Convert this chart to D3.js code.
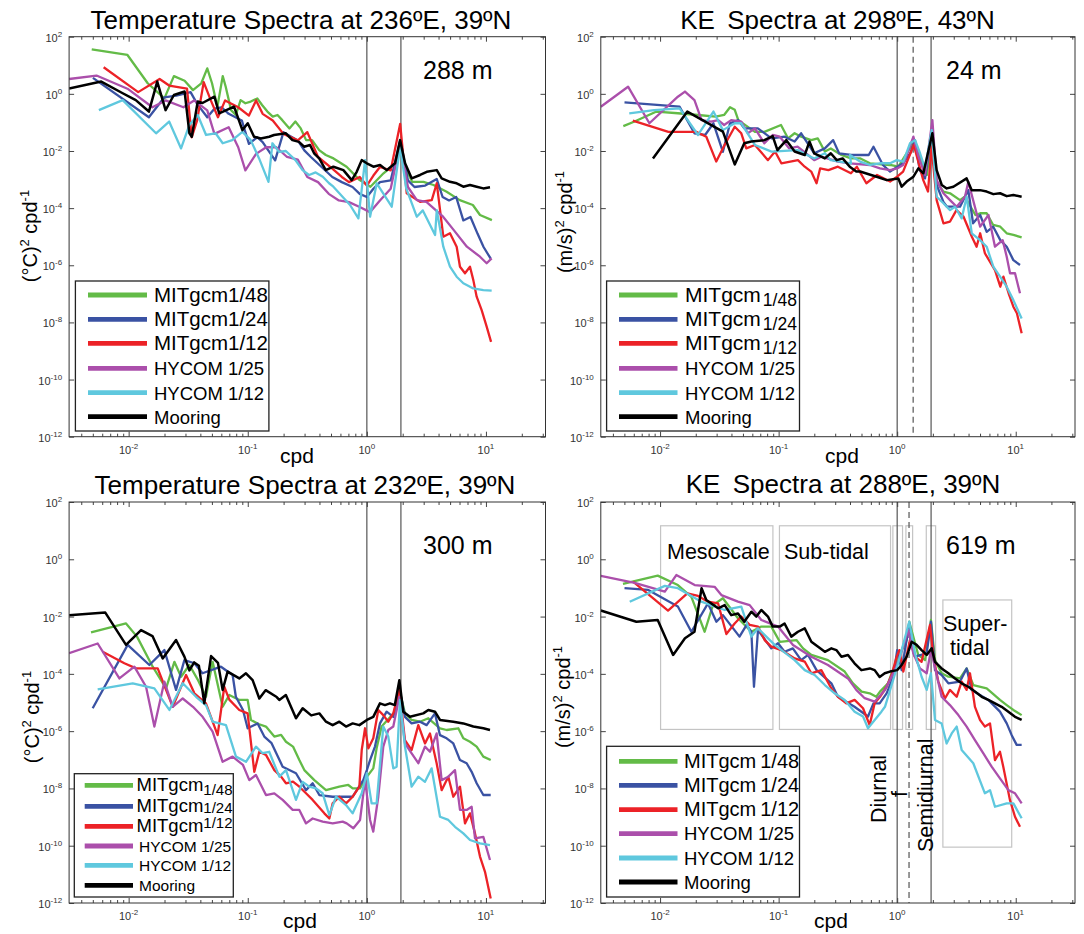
<!DOCTYPE html>
<html>
<head>
<meta charset="utf-8">
<script src="https://cdn.jsdelivr.net/npm/d3@7"></script>
<style>
  body { margin: 0; background: #fff; }
  svg { display: block; font-family: "Liberation Sans", Arial, Helvetica, sans-serif; }
</style>
</head>
<body>
<svg id="fig" width="1084" height="934"></svg>
<script>
// every series point is [log10(frequency in cpd), log10(spectral density)]

// top left: temperature, 236E 39N, 288 m
const tlGreen = [[-2.31,1.56],[-2.01,1.36],[-1.84,0.37],[-1.70,-0.16],[-1.62,0.62],[-1.53,0.46],[-1.46,0.13],[-1.39,0.37],[-1.34,0.89],[-1.30,0.37],[-1.255,-0.45],[-1.21,0.62],[-1.185,0.25],[-1.14,-0.57],[-1.10,-0.74],[-1.06,-0.22],[-1.02,-0.33],[-0.975,-0.27],[-0.92,-0.16],[-0.88,-0.39],[-0.835,-0.62],[-0.79,-0.80],[-0.75,-0.74],[-0.71,-0.92],[-0.65,-1.21],[-0.60,-0.97],[-0.555,-1.21],[-0.51,-1.62],[-0.46,-1.62],[-0.40,-1.97],[-0.345,-2.14],[-0.28,-2.26],[-0.17,-2.55],[-0.06,-3.02],[0.03,-3.25],[0.14,-2.78],[0.24,-2.43],[0.28,-1.67],[0.32,-2.55],[0.38,-3.08],[0.475,-3.08],[0.56,-3.19],[0.67,-3.43],[0.78,-3.72],[0.89,-3.89],[0.95,-4.24],[1.05,-4.42]];
const tlBlue = [[-2.30,0.56],[-1.83,-0.82],[-1.70,-0.12],[-1.60,-0.06],[-1.48,0.06],[-1.425,-0.35],[-1.34,-0.82],[-1.28,-0.52],[-1.22,-0.47],[-1.16,-0.70],[-1.05,-0.93],[-0.99,-1.75],[-0.92,-1.52],[-0.875,-1.69],[-0.77,-2.33],[-0.70,-1.34],[-0.58,-1.63],[-0.525,-1.98],[-0.47,-2.21],[-0.38,-2.56],[-0.29,-2.91],[-0.21,-3.09],[-0.12,-3.26],[-0.06,-3.50],[0.0,-3.61],[0.055,-3.32],[0.11,-3.09],[0.20,-3.03],[0.28,-1.63],[0.345,-3.03],[0.40,-3.26],[0.49,-3.21],[0.587,-2.98],[0.636,-3.61],[0.69,-3.73],[0.75,-3.61],[0.81,-4.43],[0.87,-4.31],[0.93,-4.90],[0.98,-5.36],[1.04,-5.77]];
const tlRed = [[-2.21,0.93],[-1.92,0.06],[-1.74,0.52],[-1.66,0.29],[-1.51,0.18],[-1.47,-1.52],[-1.425,-0.93],[-1.37,0.41],[-1.31,-0.23],[-1.25,-0.82],[-1.19,-0.23],[-1.08,-0.47],[-0.99,-0.76],[-0.93,-0.23],[-0.875,-0.70],[-0.79,-0.93],[-0.70,-1.40],[-0.58,-1.63],[-0.50,-1.34],[-0.41,-2.21],[-0.29,-2.62],[-0.21,-2.91],[-0.15,-3.09],[-0.06,-2.91],[0.0,-3.21],[0.055,-2.86],[0.11,-2.56],[0.20,-2.68],[0.28,-1.05],[0.335,-3.48],[0.447,-3.78],[0.545,-3.72],[0.587,-3.13],[0.642,-5.0],[0.698,-4.88],[0.754,-5.35],[0.782,-6.05],[0.824,-6.28],[0.866,-6.05],[0.894,-6.52],[0.922,-7.10],[0.964,-7.57],[1.006,-8.15],[1.043,-8.68]];
const tlPurple = [[-2.5,0.52],[-2.27,0.64],[-2.01,0.18],[-1.80,-0.47],[-1.69,-0.23],[-1.54,-0.47],[-1.45,-0.23],[-1.34,-0.58],[-1.28,-1.40],[-1.16,-1.17],[-1.08,-1.87],[-1.02,-2.68],[-0.93,-2.10],[-0.845,-1.87],[-0.76,-1.87],[-0.67,-2.21],[-0.58,-2.30],[-0.50,-2.91],[-0.41,-3.09],[-0.32,-3.50],[-0.235,-3.73],[-0.15,-3.79],[-0.06,-3.96],[0.026,-4.14],[0.11,-3.73],[0.20,-3.32],[0.28,-1.75],[0.345,-3.26],[0.42,-3.72],[0.50,-3.78],[0.64,-4.30],[0.73,-4.77],[0.84,-5.35],[0.95,-5.70],[1.006,-5.93],[1.048,-5.76]];
const tlCyan = [[-2.25,-0.57],[-2.05,-0.22],[-1.77,-1.38],[-1.66,-0.97],[-1.56,-1.91],[-1.49,-1.09],[-1.42,-0.74],[-1.35,-1.44],[-1.27,-1.38],[-1.21,-1.73],[-1.13,-1.62],[-1.045,-1.33],[-0.975,-1.62],[-0.905,-2.26],[-0.826,-3.08],[-0.793,-1.73],[-0.737,-2.03],[-0.68,-2.0],[-0.60,-2.32],[-0.54,-2.67],[-0.485,-2.84],[-0.43,-2.75],[-0.37,-2.9],[-0.317,-3.13],[-0.281,-3.25],[-0.141,-3.89],[-0.071,-4.36],[-0.015,-2.32],[0.027,-4.30],[0.083,-3.13],[0.209,-3.95],[0.279,-1.85],[0.33,-3.3],[0.419,-4.30],[0.47,-4.08],[0.573,-4.94],[0.587,-4.07],[0.642,-5.35],[0.698,-6.05],[0.754,-6.40],[0.81,-6.63],[0.894,-6.81],[0.978,-6.87],[1.048,-6.89]];
const tlBlack = [[-2.5,0.19],[-2.23,0.43],[-2.05,0.02],[-1.94,-0.22],[-1.83,-0.62],[-1.76,0.43],[-1.69,-0.57],[-1.62,-0.04],[-1.53,0.08],[-1.49,-1.38],[-1.47,-1.50],[-1.42,-0.27],[-1.38,-0.32],[-1.28,-0.10],[-1.24,-0.68],[-1.115,-0.45],[-1.045,-1.27],[-1.0,-1.03],[-0.947,-1.50],[-0.89,-1.56],[-0.82,-1.50],[-0.779,-1.44],[-0.68,-1.38],[-0.625,-1.62],[-0.57,-1.68],[-0.527,-1.85],[-0.477,-1.79],[-0.443,-2.08],[-0.40,-2.26],[-0.345,-2.67],[-0.281,-2.55],[-0.197,-2.67],[-0.127,-3.02],[-0.085,-2.73],[-0.043,-2.32],[0.0,-2.43],[0.055,-2.55],[0.111,-2.49],[0.167,-2.67],[0.237,-2.43],[0.279,-1.62],[0.321,-2.43],[0.377,-2.96],[0.447,-2.84],[0.503,-2.73],[0.587,-2.67],[0.628,-2.96],[0.698,-3.08],[0.754,-3.13],[0.81,-3.25],[0.866,-3.19],[0.922,-3.25],[0.978,-3.31],[1.034,-3.27]];

// top right: kinetic energy, 298E 43N, 24 m
const trGreen = [[-2.31,-1.13],[-2.215,-0.97],[-2.03,-0.62],[-1.85,-0.68],[-1.68,-0.74],[-1.53,-0.80],[-1.46,-0.74],[-1.41,-0.47],[-1.37,-0.56],[-1.34,-0.92],[-1.20,-1.33],[-1.12,-1.33],[-0.98,-1.09],[-0.92,-1.56],[-0.865,-1.38],[-0.81,-1.50],[-0.725,-1.62],[-0.67,-1.56],[-0.61,-2.02],[-0.56,-1.91],[-0.47,-2.14],[-0.39,-2.26],[-0.31,-2.26],[-0.23,-2.43],[-0.06,-2.49],[0.01,-2.55],[0.14,-1.68],[0.25,-2.84],[0.294,-1.38],[0.333,-3.07],[0.39,-3.42],[0.446,-3.48],[0.53,-3.72],[0.57,-3.60],[0.66,-4.24],[0.70,-4.18],[0.755,-4.18],[0.81,-4.59],[0.87,-4.65],[0.924,-4.88],[0.98,-4.94],[1.05,-5.02]];
const trBlue = [[-2.30,-0.30],[-1.835,-0.45],[-1.71,-1.38],[-1.62,-1.44],[-1.55,-1.03],[-1.47,-2.03],[-1.41,-1.03],[-1.34,-0.92],[-1.29,-1.21],[-1.175,-1.21],[-1.06,-1.56],[-0.95,-1.50],[-0.865,-1.67],[-0.81,-1.38],[-0.70,-2.08],[-0.61,-1.91],[-0.54,-1.62],[-0.49,-2.08],[-0.39,-2.14],[-0.24,-2.14],[-0.20,-1.85],[-0.12,-2.49],[-0.06,-2.72],[0.05,-2.43],[0.11,-2.08],[0.15,-1.62],[0.19,-2.67],[0.235,-2.96],[0.29,-1.38],[0.333,-3.19],[0.39,-3.78],[0.42,-3.95],[0.53,-3.95],[0.60,-3.37],[0.64,-4.53],[0.70,-4.24],[0.755,-4.83],[0.81,-4.65],[0.87,-5.12],[0.924,-5.35],[0.98,-5.82],[1.036,-5.99]];
const trRed = [[-2.23,-0.94],[-1.93,-1.33],[-1.695,-1.33],[-1.61,-1.50],[-1.526,-2.37],[-1.456,-1.79],[-1.37,-1.15],[-1.315,-1.38],[-1.273,-1.91],[-1.20,-1.79],[-1.09,-2.32],[-1.03,-2.02],[-0.977,-2.43],[-0.837,-2.32],[-0.78,-2.55],[-0.725,-2.72],[-0.68,-3.13],[-0.65,-2.61],[-0.58,-2.67],[-0.50,-2.55],[-0.39,-2.78],[-0.34,-2.55],[-0.26,-3.13],[-0.17,-2.84],[-0.06,-3.07],[0.0,-2.90],[0.05,-2.72],[0.14,-1.79],[0.22,-3.02],[0.26,-3.42],[0.29,-1.85],[0.333,-3.72],[0.39,-4.53],[0.446,-4.47],[0.50,-4.07],[0.56,-4.30],[0.63,-5.0],[0.67,-5.35],[0.70,-4.88],[0.74,-5.58],[0.825,-6.17],[0.87,-6.75],[0.896,-6.40],[0.94,-6.98],[0.98,-7.45],[1.01,-7.68],[1.05,-8.38]];
const trPurple = [[-2.5,-0.45],[-2.27,0.25],[-2.09,-1.03],[-1.85,-0.10],[-1.79,0.08],[-1.71,-0.22],[-1.65,-0.92],[-1.57,-0.97],[-1.51,-0.92],[-1.46,-1.09],[-1.40,-0.92],[-1.315,-0.97],[-1.26,-1.38],[-1.20,-1.21],[-1.12,-1.73],[-1.05,-1.44],[-0.99,-1.50],[-0.91,-1.91],[-0.84,-1.85],[-0.77,-2.08],[-0.70,-2.32],[-0.64,-2.20],[-0.50,-2.37],[-0.40,-2.43],[-0.23,-2.49],[-0.145,-2.61],[-0.06,-2.67],[0.0,-2.61],[0.05,-2.49],[0.137,-1.50],[0.18,-2.20],[0.235,-2.84],[0.297,-0.92],[0.333,-3.02],[0.39,-3.48],[0.446,-3.72],[0.502,-3.95],[0.572,-3.60],[0.60,-3.08],[0.70,-4.65],[0.77,-4.24],[0.825,-5.35],[0.89,-5.12],[0.924,-5.70],[0.952,-6.28],[0.994,-6.28],[1.036,-6.98]];
const trCyan = [[-2.26,-0.68],[-2.05,-0.57],[-1.835,-0.51],[-1.68,-1.44],[-1.55,-0.62],[-1.47,-1.27],[-1.37,-1.03],[-1.315,-1.03],[-1.20,-1.79],[-1.06,-2.02],[-0.84,-1.97],[-0.70,-2.26],[-0.61,-2.08],[-0.56,-2.32],[-0.39,-2.43],[-0.398,-2.14],[-0.313,-2.37],[-0.229,-2.49],[-0.145,-2.43],[-0.06,-2.43],[-0.004,-2.32],[0.052,-2.37],[0.108,-1.73],[0.151,-1.62],[0.193,-2.08],[0.235,-2.61],[0.291,-1.27],[0.333,-3.60],[0.39,-3.83],[0.446,-4.07],[0.488,-3.95],[0.544,-4.36],[0.586,-3.60],[0.629,-4.88],[0.699,-5.12],[0.755,-5.35],[0.811,-6.05],[0.868,-6.40],[0.924,-6.75],[0.98,-7.22],[1.05,-7.86]];
const trBlack = [[-2.06,-2.26],[-1.77,-0.62],[-1.47,-1.32],[-1.37,-2.47],[-1.29,-1.73],[-1.23,-1.67],[-1.12,-1.62],[-1.05,-1.48],[-1.01,-1.97],[-0.935,-1.62],[-0.865,-2.02],[-0.78,-2.14],[-0.74,-1.67],[-0.70,-2.08],[-0.61,-2.26],[-0.56,-2.08],[-0.51,-2.32],[-0.46,-2.26],[-0.40,-2.55],[-0.345,-2.72],[-0.313,-2.72],[-0.173,-2.90],[-0.088,-3.02],[0.01,-2.96],[0.038,-3.25],[0.08,-3.07],[0.137,-2.90],[0.179,-2.61],[0.221,-2.78],[0.297,-1.38],[0.333,-2.67],[0.376,-3.19],[0.418,-3.31],[0.474,-3.25],[0.586,-2.96],[0.629,-3.37],[0.699,-3.37],[0.755,-3.42],[0.811,-3.51],[0.868,-3.48],[0.924,-3.58],[0.98,-3.54],[1.05,-3.60]];

// bottom left: temperature, 232E 39N, 300 m
const blGreen = [[-2.316,-2.55],[-2.022,-2.24],[-1.93,-2.70],[-1.798,-3.75],[-1.686,-4.51],[-1.616,-3.58],[-1.56,-4.10],[-1.49,-3.69],[-1.42,-4.20],[-1.351,-4.80],[-1.295,-3.58],[-1.211,-5.15],[-1.155,-4.74],[-1.071,-4.91],[-1.001,-4.91],[-0.973,-5.61],[-0.91,-5.75],[-0.847,-5.84],[-0.777,-6.19],[-0.72,-6.13],[-0.679,-6.37],[-0.62,-6.54],[-0.567,-7.01],[-0.525,-7.36],[-0.441,-7.71],[-0.343,-8.06],[-0.231,-7.94],[-0.156,-7.88],[-0.119,-8.0],[-0.058,-8.0],[0.0,-7.59],[0.054,-7.30],[0.082,-6.60],[0.124,-5.84],[0.236,-5.32],[0.273,-4.56],[0.32,-5.38],[0.376,-5.61],[0.446,-5.67],[0.516,-5.55],[0.614,-5.90],[0.67,-5.96],[0.768,-5.90],[0.81,-6.25],[0.866,-6.37],[0.922,-6.54],[0.978,-6.89],[1.04,-7.01]];
const blBlue = [[-2.302,-5.20],[-2.008,-2.99],[-1.826,-3.69],[-1.70,-3.17],[-1.602,-4.56],[-1.532,-3.52],[-1.448,-3.63],[-1.38,-3.98],[-1.225,-3.75],[-1.127,-4.04],[-1.10,-4.80],[-1.04,-5.26],[-1.001,-5.90],[-0.917,-5.73],[-0.861,-6.19],[-0.80,-6.42],[-0.707,-7.24],[-0.595,-7.47],[-0.511,-8.06],[-0.455,-7.82],[-0.399,-8.23],[-0.287,-8.29],[-0.119,-8.29],[-0.03,-7.71],[0.0,-7.36],[0.027,-7.01],[0.068,-6.54],[0.11,-5.73],[0.166,-5.32],[0.222,-5.50],[0.273,-4.51],[0.32,-5.50],[0.376,-5.73],[0.446,-5.67],[0.502,-5.79],[0.572,-5.38],[0.614,-6.14],[0.67,-6.25],[0.726,-6.43],[0.782,-7.01],[0.838,-7.12],[0.88,-7.42],[0.922,-7.82],[0.978,-8.23],[1.04,-8.23]];
const blRed = [[-2.218,-3.23],[-2.036,-3.63],[-1.938,-3.81],[-1.756,-3.81],[-1.63,-5.15],[-1.518,-4.04],[-1.448,-4.68],[-1.351,-5.03],[-1.253,-6.14],[-1.197,-4.45],[-1.155,-4.90],[-1.071,-5.26],[-1.001,-5.38],[-0.945,-7.42],[-0.903,-6.72],[-0.847,-6.83],[-0.777,-7.36],[-0.72,-7.59],[-0.679,-7.82],[-0.62,-7.76],[-0.567,-7.94],[-0.511,-8.17],[-0.455,-8.40],[-0.357,-8.87],[-0.315,-9.05],[-0.287,-8.52],[-0.231,-8.29],[-0.175,-8.52],[-0.119,-8.29],[-0.063,-7.94],[-0.043,-6.66],[-0.015,-5.90],[0.013,-6.60],[0.054,-6.25],[0.096,-5.26],[0.138,-5.44],[0.18,-5.67],[0.222,-5.38],[0.273,-4.56],[0.32,-6.31],[0.376,-6.66],[0.432,-5.79],[0.488,-6.43],[0.53,-6.08],[0.586,-7.12],[0.628,-8.06],[0.684,-7.59],[0.726,-8.29],[0.782,-7.94],[0.824,-9.22],[0.866,-8.87],[0.908,-9.57],[0.95,-10.38],[0.992,-10.91],[1.04,-11.84]];
const blPurple = [[-2.5,-3.28],[-2.26,-2.94],[-2.078,-4.16],[-1.952,-3.75],[-1.854,-4.45],[-1.784,-5.84],[-1.70,-4.27],[-1.63,-5.15],[-1.546,-4.86],[-1.46,-5.15],[-1.379,-5.50],[-1.295,-6.02],[-1.211,-7.07],[-1.127,-6.89],[-1.04,-7.18],[-0.987,-7.71],[-0.931,-7.53],[-0.847,-8.23],[-0.777,-8.17],[-0.707,-8.40],[-0.623,-8.75],[-0.567,-8.75],[-0.511,-9.22],[-0.455,-9.05],[-0.371,-9.16],[-0.287,-9.22],[-0.203,-9.16],[-0.169,-9.22],[-0.113,-9.39],[-0.057,-9.10],[-0.015,-7.71],[0.027,-9.10],[0.054,-9.51],[0.096,-8.29],[0.138,-6.54],[0.18,-5.96],[0.222,-5.84],[0.273,-4.80],[0.32,-6.43],[0.376,-6.78],[0.432,-7.12],[0.488,-6.54],[0.53,-6.72],[0.586,-6.08],[0.628,-7.71],[0.684,-7.59],[0.74,-7.36],[0.782,-8.75],[0.838,-8.75],[0.88,-8.64],[0.908,-9.74],[0.978,-9.69],[1.034,-10.5]];
const blCyan = [[-2.26,-4.54],[-1.966,-4.33],[-1.784,-4.51],[-1.658,-5.26],[-1.546,-4.33],[-1.434,-4.80],[-1.35,-5.10],[-1.295,-5.67],[-1.183,-5.79],[-1.099,-6.89],[-1.015,-7.07],[-0.931,-6.54],[-0.875,-6.77],[-0.82,-6.72],[-0.735,-7.59],[-0.679,-7.36],[-0.595,-8.40],[-0.539,-7.77],[-0.483,-7.94],[-0.427,-8.0],[-0.371,-8.17],[-0.315,-8.93],[-0.259,-8.29],[-0.175,-8.58],[-0.119,-8.87],[-0.043,-8.17],[0.0,-7.47],[0.04,-8.52],[0.082,-8.52],[0.138,-5.84],[0.18,-6.19],[0.222,-7.30],[0.25,-7.24],[0.278,-4.91],[0.32,-6.54],[0.376,-7.94],[0.432,-7.59],[0.488,-7.77],[0.544,-7.30],[0.614,-8.99],[0.684,-9.10],[0.74,-9.34],[0.81,-9.57],[0.866,-9.80],[0.95,-9.92],[1.034,-9.98]];
const blBlack = [[-2.5,-1.95],[-2.196,-1.86],[-2.022,-2.99],[-1.896,-2.47],[-1.80,-2.68],[-1.714,-3.46],[-1.602,-2.82],[-1.532,-3.40],[-1.49,-3.88],[-1.45,-3.60],[-1.41,-3.72],[-1.365,-5.03],[-1.308,-3.38],[-1.25,-3.62],[-1.211,-4.56],[-1.169,-3.92],[-1.071,-4.16],[-1.015,-3.98],[-0.959,-4.22],[-0.903,-4.86],[-0.85,-4.57],[-0.757,-4.81],[-0.735,-4.91],[-0.68,-4.74],[-0.595,-5.55],[-0.539,-5.20],[-0.467,-5.45],[-0.399,-5.38],[-0.343,-5.67],[-0.287,-5.79],[-0.231,-5.67],[-0.175,-5.84],[-0.119,-5.73],[-0.063,-5.79],[0.0,-5.61],[0.054,-5.50],[0.11,-5.03],[0.152,-5.09],[0.194,-5.03],[0.235,-5.09],[0.273,-4.22],[0.306,-5.32],[0.362,-5.50],[0.474,-5.38],[0.516,-5.26],[0.572,-5.32],[0.614,-5.61],[0.726,-5.67],[0.81,-5.73],[0.894,-5.84],[0.978,-5.90],[1.034,-5.96]];

// bottom right: kinetic energy, 288E 39N, 619 m
const brGreen = [[-2.313,-0.86],[-2.02,-0.57],[-1.85,-0.90],[-1.736,-1.31],[-1.624,-2.53],[-1.554,-1.60],[-1.47,-1.36],[-1.343,-2.06],[-1.23,-2.53],[-1.146,-2.35],[-1.062,-2.35],[-0.99,-2.88],[-0.85,-2.82],[-0.794,-3.11],[-0.724,-3.34],[-0.584,-3.52],[-0.443,-3.92],[-0.373,-4.33],[-0.30,-4.62],[-0.232,-4.68],[-0.176,-4.80],[-0.145,-4.62],[-0.077,-4.33],[-0.047,-3.98],[0.0,-3.52],[0.08,-2.82],[0.102,-2.18],[0.178,-3.34],[0.235,-3.52],[0.285,-2.12],[0.319,-3.52],[0.375,-3.98],[0.432,-4.10],[0.53,-4.16],[0.586,-3.81],[0.642,-4.39],[0.755,-4.51],[0.867,-4.91],[0.924,-5.09],[0.98,-5.26],[1.05,-5.44]];
const brBlue = [[-2.30,-1.01],[-2.10,-1.07],[-1.85,-1.65],[-1.736,-2.53],[-1.596,-1.54],[-1.525,-2.18],[-1.47,-1.95],[-1.33,-2.70],[-1.27,-2.29],[-1.23,-2.53],[-1.208,-4.45],[-1.174,-2.47],[-1.062,-3.11],[-1.005,-2.93],[-0.95,-3.23],[-0.88,-3.11],[-0.81,-3.52],[-0.752,-3.34],[-0.68,-3.87],[-0.555,-4.33],[-0.50,-4.80],[-0.36,-5.15],[-0.246,-5.49],[-0.20,-5.03],[-0.148,-5.03],[-0.089,-4.68],[-0.032,-4.10],[0.0,-3.17],[0.038,-3.87],[0.102,-2.24],[0.15,-3.40],[0.249,-3.28],[0.285,-2.18],[0.319,-3.87],[0.375,-4.04],[0.432,-4.33],[0.53,-4.27],[0.586,-3.81],[0.628,-4.56],[0.769,-4.91],[0.867,-5.32],[0.924,-5.73],[0.966,-6.14],[1.008,-6.48],[1.05,-6.48]];
const brRed = [[-2.228,-0.78],[-1.933,-1.79],[-1.77,-1.19],[-1.68,-1.28],[-1.596,-1.48],[-1.511,-1.54],[-1.441,-2.61],[-1.371,-2.24],[-1.315,-2.00],[-1.244,-2.29],[-1.174,-2.35],[-1.118,-2.82],[-1.062,-3.05],[-0.977,-3.17],[-0.865,-3.46],[-0.78,-3.57],[-0.724,-3.98],[-0.64,-3.87],[-0.555,-4.51],[-0.499,-4.80],[-0.429,-5.03],[-0.359,-4.91],[-0.288,-5.20],[-0.232,-5.79],[-0.19,-5.03],[-0.145,-4.80],[-0.089,-4.45],[-0.047,-4.04],[-0.004,-3.40],[0.018,-3.17],[0.052,-3.92],[0.108,-2.82],[0.15,-3.40],[0.206,-3.58],[0.277,-2.29],[0.305,-3.40],[0.347,-4.27],[0.403,-4.86],[0.445,-4.56],[0.502,-4.80],[0.544,-4.27],[0.586,-4.56],[0.614,-3.98],[0.656,-5.15],[0.699,-5.61],[0.74,-5.84],[0.783,-5.73],[0.825,-7.01],[0.867,-6.72],[0.895,-7.24],[0.951,-8.40],[0.994,-8.99],[1.036,-9.34]];
const brPurple = [[-2.5,-0.58],[-2.214,-0.82],[-1.96,-1.13],[-1.863,-0.55],[-1.708,-0.90],[-1.54,-0.96],[-1.483,-1.25],[-1.343,-1.48],[-1.244,-1.60],[-1.146,-2.12],[-1.005,-2.35],[-0.879,-2.99],[-0.724,-3.40],[-0.584,-3.69],[-0.415,-4.16],[-0.345,-4.56],[-0.274,-4.85],[-0.19,-4.97],[-0.103,-4.56],[0.0,-3.69],[0.094,-2.47],[0.136,-3.28],[0.192,-3.81],[0.249,-3.98],[0.285,-3.17],[0.375,-4.80],[0.445,-5.09],[0.516,-5.44],[0.586,-5.84],[0.656,-6.31],[0.727,-6.78],[0.797,-7.24],[0.867,-7.65],[0.938,-8.06],[0.994,-8.17],[1.05,-8.52]];
const brCyan = [[-2.256,-1.48],[-1.96,-0.93],[-1.85,-1.01],[-1.652,-1.48],[-1.455,-1.77],[-1.315,-1.65],[-1.23,-2.70],[-1.174,-2.41],[-1.033,-2.99],[-0.865,-3.52],[-0.78,-3.87],[-0.696,-4.04],[-0.61,-4.39],[-0.527,-4.68],[-0.443,-4.91],[-0.359,-5.32],[-0.288,-5.49],[-0.246,-5.90],[-0.133,-5.32],[-0.103,-5.15],[0.0,-3.75],[0.102,-2.18],[0.15,-3.28],[0.206,-4.10],[0.249,-4.56],[0.285,-3.98],[0.319,-5.61],[0.375,-5.73],[0.417,-6.43],[0.46,-6.08],[0.502,-5.84],[0.544,-6.66],[0.642,-7.12],[0.74,-8.17],[0.783,-8.06],[0.825,-8.64],[0.924,-8.52],[0.98,-8.52],[1.05,-9.04]];
const brBlack = [[-2.5,-1.79],[-2.20,-2.18],[-2.02,-2.12],[-1.89,-3.34],[-1.79,-2.76],[-1.71,-2.53],[-1.65,-1.01],[-1.61,-1.42],[-1.51,-1.71],[-1.455,-1.60],[-1.40,-1.95],[-1.343,-1.89],[-1.29,-2.18],[-1.23,-1.83],[-1.188,-2.0],[-1.146,-1.77],[-1.09,-2.0],[-1.05,-2.35],[-0.99,-2.35],[-0.95,-2.24],[-0.893,-2.70],[-0.837,-2.53],[-0.78,-2.41],[-0.724,-2.88],[-0.61,-3.23],[-0.555,-3.11],[-0.513,-3.17],[-0.47,-3.40],[-0.415,-3.34],[-0.36,-3.63],[-0.302,-3.87],[-0.23,-3.81],[-0.19,-3.87],[-0.148,-4.11],[-0.105,-3.98],[-0.061,-3.92],[0.0,-3.87],[0.038,-3.69],[0.08,-3.40],[0.122,-2.88],[0.164,-2.99],[0.206,-3.17],[0.249,-3.34],[0.291,-3.11],[0.319,-3.58],[0.375,-3.81],[0.432,-3.98],[0.488,-4.16],[0.544,-4.33],[0.60,-4.45],[0.656,-4.62],[0.713,-4.80],[0.769,-4.91],[0.825,-5.03],[0.881,-5.15],[0.938,-5.32],[0.994,-5.50],[1.05,-5.61]];

const seriesNames = ["MITgcm1/48", "MITgcm1/24", "MITgcm1/12", "HYCOM 1/25", "HYCOM 1/12", "Mooring"];
const seriesColors = ["#63bb47", "#3a52a3", "#ec2227", "#ab4fab", "#5fc8de", "#000000"];
const xTickExps = [-2, -1, 0, 1];
const yTickExps = [2, 0, -2, -4, -6, -8, -10, -12];
const tidalFreqs = [1.0, 1.932];   // diurnal, semidiurnal (cpd)

// bottom right band boxes: [cpd from, cpd to, log10 top, log10 bottom]
const bandBoxes = [[0.0101, 0.0895, 1.17, -5.94], [0.1016, 0.879, 1.17, -5.94], [0.92, 1.11, 1.17, -5.94],
                   [1.185, 1.35, 1.17, -5.94], [1.76, 2.11, 1.17, -5.94], [2.43, 9.25, -1.42, -10.05]];

const panels = [
  { id: "tl", left: 69.1, right: 545.5, top: 36.7, bottom: 436.7,
    title: "Temperature Spectra at 236ºE, 39ºN", titleX: 301, titleY: 29,
    depth: "288 m", depthX: 423, depthY: 79, unit: "(°C)", ylabX: 37, ylabY: 236, cpdX: 297, cpdY: 463,
    series: [tlGreen, tlBlue, tlRed, tlPurple, tlCyan, tlBlack], inertial: null,
    legend: { box: [75.4, 281, 268.9, 431], lx: [88, 147], tx: 154, rows: [295, 319.3, 343.3, 368.3, 392.7, 416.7], dy: 7, style: "plain" } },
  { id: "tr", left: 600.8, right: 1075, top: 36.7, bottom: 436.7,
    title: "KE\u2009 Spectra at 298ºE, 43ºN", titleX: 837.5, titleY: 29,
    depth: "24 m", depthX: 946, depthY: 79, unit: "(m/s)", ylabX: 572, ylabY: 222, cpdX: 842, cpdY: 463,
    series: [trGreen, trBlue, trRed, trPurple, trCyan, trBlack], inertial: 1.364,
    legend: { box: [606.6, 281, 799.5, 431], lx: [619, 677.5], tx: 685, rows: [295, 319.3, 343.3, 368.3, 392.7, 416.7], dy: 7, style: "sub" } },
  { id: "bl", left: 69.1, right: 545.5, top: 502, bottom: 903,
    title: "Temperature Spectra at 232ºE, 39ºN", titleX: 305, titleY: 494,
    depth: "300 m", depthX: 423, depthY: 554, unit: "(°C)", ylabX: 39, ylabY: 717, cpdX: 300, cpdY: 928,
    series: [blGreen, blBlue, blRed, blPurple, blCyan, blBlack], inertial: null,
    legend: { box: [74.3, 773.7, 233.3, 897], lx: [84.7, 133], tx: 136.5, rows: [785.3, 806.3, 826.3, 846, 865.3, 885.3], dy: 6, style: "mixed" } },
  { id: "br", left: 600.8, right: 1075, top: 502, bottom: 903,
    title: "KE\u2009 Spectra at 288ºE, 39ºN", titleX: 843, titleY: 493,
    depth: "619 m", depthX: 946, depthY: 554, unit: "(m/s)", ylabX: 570, ylabY: 697, cpdX: 831, cpdY: 928,
    series: [brGreen, brBlue, brRed, brPurple, brCyan, brBlack], inertial: 1.259, boxes: bandBoxes,
    legend: { box: [606.6, 746.3, 799.5, 897], lx: [619, 677.5], tx: 684, rows: [761.3, 785.3, 809.7, 833.7, 858, 882], dy: 6.5, style: "spaced" } }
];

const svg = d3.select("#fig");
const pow10 = v => Math.pow(10, v);

panels.forEach(drawPanel);
drawBandLabels();

function drawPanel(p) {
  const x = d3.scaleLog().domain([pow10(-2.5), pow10(1.5)]).range([p.left, p.right]);
  const y = d3.scaleLog().domain([1e-12, 1e2]).range([p.bottom, p.top]);
  const g = svg.append("g");

  svg.append("clipPath").attr("id", "clip-" + p.id).append("rect")
    .attr("x", p.left).attr("y", p.top)
    .attr("width", p.right - p.left).attr("height", p.bottom - p.top);

  if (p.boxes) {
    g.selectAll("rect.band").data(p.boxes).enter().append("rect")
      .attr("class", "band")
      .attr("x", d => x(d[0])).attr("width", d => x(d[1]) - x(d[0]))
      .attr("y", d => y(pow10(d[2]))).attr("height", d => y(pow10(d[3])) - y(pow10(d[2])))
      .attr("fill", "none").attr("stroke", "#c4c4c4").attr("stroke-width", 1.2);
  }

  // tidal and inertial frequencies
  g.selectAll("line.tide").data(tidalFreqs).enter().append("line")
    .attr("x1", d => x(d)).attr("x2", d => x(d))
    .attr("y1", p.top).attr("y2", p.bottom)
    .attr("stroke", "#555").attr("stroke-width", 1.2);
  if (p.inertial) {
    g.append("line")
      .attr("x1", x(p.inertial)).attr("x2", x(p.inertial))
      .attr("y1", p.top).attr("y2", p.bottom)
      .attr("stroke", "#555").attr("stroke-width", 1.2).attr("stroke-dasharray", "6,4");
  }

  const line = d3.line()
    .x(d => x(pow10(d[0])))
    .y(d => y(pow10(d[1])));

  const plot = g.append("g").attr("clip-path", "url(#clip-" + p.id + ")");
  p.series.forEach((s, i) => {
    plot.append("path").datum(s)
      .attr("d", line)
      .attr("fill", "none")
      .attr("stroke", seriesColors[i])
      .attr("stroke-width", i == 5 ? 2.5 : 2.3)
      .attr("stroke-linejoin", "round");
  });

  // ticks, pointing inwards on all four sides
  const majorX = xTickExps.map(pow10);
  const minorX = [];
  for (let e = -3; e <= 1; e++) {
    for (let m = 2; m <= 9; m++) {
      const v = m * pow10(e);
      if (v > x.domain()[0] && v < x.domain()[1]) minorX.push(v);
    }
  }
  const majorY = yTickExps.map(pow10);

  const tickAxes = [
    [d3.axisBottom(x).tickValues(majorX).tickSize(-5), "translate(0," + p.bottom + ")"],
    [d3.axisBottom(x).tickValues(minorX).tickSize(-3), "translate(0," + p.bottom + ")"],
    [d3.axisTop(x).tickValues(majorX).tickSize(-5), "translate(0," + p.top + ")"],
    [d3.axisTop(x).tickValues(minorX).tickSize(-3), "translate(0," + p.top + ")"],
    [d3.axisLeft(y).tickValues(majorY).tickSize(-5), "translate(" + p.left + ",0)"],
    [d3.axisRight(y).tickValues(majorY).tickSize(-5), "translate(" + p.right + ",0)"]
  ];
  tickAxes.forEach(a => {
    const ax = g.append("g").attr("transform", a[1])
      .call(a[0].tickFormat("").tickSizeOuter(0));
    ax.select(".domain").remove();
    ax.selectAll("line").attr("stroke", "#444");
  });

  g.append("rect")
    .attr("x", p.left).attr("y", p.top)
    .attr("width", p.right - p.left).attr("height", p.bottom - p.top)
    .attr("fill", "none").attr("stroke", "#333").attr("stroke-width", 1);

  // tick labels 10^n
  xTickExps.forEach(e => {
    const t = g.append("text")
      .attr("x", x(pow10(e))).attr("y", p.bottom + 17)
      .attr("text-anchor", "middle").attr("font-size", 11).attr("fill", "#333");
    t.append("tspan").text("10");
    t.append("tspan").attr("dy", -5).attr("font-size", 8).text(e < 0 ? "-" + (-e) : e);
  });
  yTickExps.forEach(e => {
    const t = g.append("text")
      .attr("x", p.left - 7).attr("y", y(pow10(e)) + 5)
      .attr("text-anchor", "end").attr("font-size", 11).attr("fill", "#333");
    t.append("tspan").text("10");
    t.append("tspan").attr("dy", -5).attr("font-size", 8).text(e < 0 ? "-" + (-e) : e);
  });

  // titles and axis labels
  g.append("text").attr("x", p.titleX).attr("y", p.titleY)
    .attr("text-anchor", "middle").attr("font-size", 26).text(p.title);
  g.append("text").attr("x", p.depthX).attr("y", p.depthY)
    .attr("font-size", 25).text(p.depth);
  g.append("text").attr("x", p.cpdX).attr("y", p.cpdY)
    .attr("text-anchor", "middle").attr("font-size", 21).text("cpd");

  const yl = g.append("text")
    .attr("transform", "translate(" + p.ylabX + "," + p.ylabY + ") rotate(-90)")
    .attr("text-anchor", "middle").attr("font-size", 20);
  yl.append("tspan").text(p.unit);
  yl.append("tspan").attr("dy", -8).attr("font-size", 13).text("2");
  yl.append("tspan").attr("dy", 8).text(" cpd");
  yl.append("tspan").attr("dy", -8).attr("font-size", 13).text("-1");

  drawLegend(g, p.legend);
}

function drawLegend(g, L) {
  g.append("rect")
    .attr("x", L.box[0]).attr("y", L.box[1])
    .attr("width", L.box[2] - L.box[0]).attr("height", L.box[3] - L.box[1])
    .attr("fill", "#fff").attr("stroke", "#222").attr("stroke-width", 1.3);

  seriesNames.forEach((name, i) => {
    const ry = L.rows[i];
    g.append("line")
      .attr("x1", L.lx[0]).attr("x2", L.lx[1]).attr("y1", ry).attr("y2", ry)
      .attr("stroke", seriesColors[i]).attr("stroke-width", 4.8);

    const isMit = name.startsWith("MITgcm");
    const t = g.append("text").attr("y", ry + L.dy);
    if (L.style == "plain") {
      t.attr("x", L.tx).attr("font-size", isMit ? 20.5 : 18.5).text(name);
    } else if (L.style == "spaced") {
      t.attr("x", L.tx).attr("font-size", isMit ? 20 : 18.5)
        .text(isMit ? "MITgcm\u2009" + name.slice(6) : name);
    } else if (L.style == "sub") {
      t.attr("x", L.tx).attr("font-size", isMit ? 21 : 18.5);
      if (isMit) {
        t.append("tspan").text("MITgcm");
        t.append("tspan").attr("dx", 2).attr("dy", 4).attr("font-size", 17.5).text(name.slice(6));
      } else {
        t.text(name);
      }
    } else {
      // bottom left: suffixes drift from sub- to superscript
      const shift = [4, 1, -4][i];
      if (isMit) {
        t.attr("x", L.tx).attr("font-size", 18.5);
        t.append("tspan").text("MITgcm");
        t.append("tspan").attr("dy", shift).attr("font-size", 15).text(name.slice(6));
      } else {
        t.attr("x", L.tx + 2.5).attr("font-size", 15.5).text(name);
      }
    }
  });
}

function drawBandLabels() {
  const g = svg.append("g").attr("font-size", 21.5);
  g.append("text").attr("x", 667).attr("y", 559).text("Mesoscale");
  g.append("text").attr("x", 784).attr("y", 559).text("Sub-tidal");
  g.append("text").attr("x", 943).attr("y", 631).text("Super-");
  g.append("text").attr("x", 950).attr("y", 655).text("tidal");
  g.append("text").attr("transform", "translate(886,823) rotate(-90)").text("Diurnal");
  g.append("text").attr("transform", "translate(907,797) rotate(-90)").text("f");
  g.append("text").attr("transform", "translate(933,852) rotate(-90)").text("Semidiurnal");
}
</script>
</body>
</html>
